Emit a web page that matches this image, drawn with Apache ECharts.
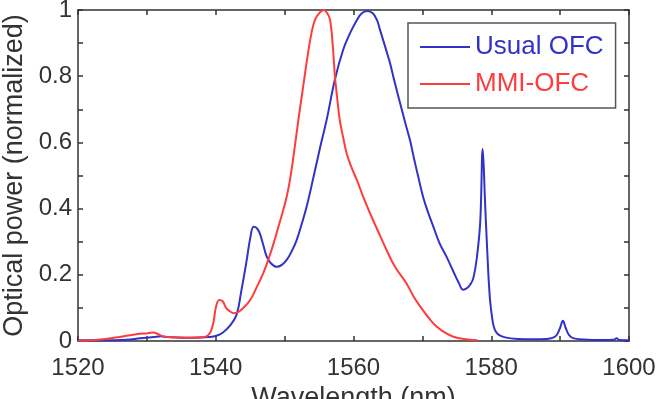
<!DOCTYPE html>
<html>
<head>
<meta charset="utf-8">
<script src="https://cdn.jsdelivr.net/npm/echarts@6/dist/echarts.min.js"></script>
<style>
html,body{margin:0;padding:0;background:#fff;}
#chart{width:666px;height:399px;}
</style>
</head>
<body>
<div id="chart"></div>
<script>
// Wavelength axis
const xTicks = [1520, 1540, 1560, 1580, 1600];
const yTicks = [0, 0.2, 0.4, 0.6, 0.8, 1];

// Usual OFC (blue)
const usualWl = [1520,1524,1527,1529,1531,1532,1533,1535,1537,1539,1540,1541,1542,1543,1543.7,1544.5,1545,1545.5,1546,1546.4,1546.9,1547.4,1548,1548.85,1549.6,1550.3,1551,1551.75,1552.5,1553.2,1554.2,1555.1,1556.1,1557.3,1558.5,1559.5,1560.5,1561.2,1562,1562.8,1563.4,1563.85,1564.8,1565.3,1566,1566.75,1567.5,1568.2,1568.8,1569.4,1570.1,1570.8,1571.6,1572.5,1573.5,1574.5,1575.3,1575.9,1576.5,1577,1577.4,1577.9,1578.4,1578.76,1579.1,1579.4,1579.8,1580.2,1580.5,1581,1582,1584,1586,1588,1589,1589.5,1590,1590.4,1590.8,1591.3,1592,1594,1596,1597.8,1598.2,1598.6,1600];
const usualVal = [0.002,0.002,0.004,0.008,0.012,0.014,0.012,0.010,0.010,0.012,0.015,0.025,0.045,0.078,0.15,0.245,0.31,0.345,0.34,0.325,0.29,0.255,0.235,0.224,0.23,0.245,0.27,0.305,0.355,0.406,0.496,0.58,0.668,0.79,0.88,0.93,0.97,0.99,0.997,0.99,0.97,0.94,0.875,0.84,0.78,0.72,0.66,0.607,0.55,0.496,0.436,0.39,0.345,0.295,0.255,0.21,0.175,0.155,0.16,0.172,0.19,0.25,0.36,0.58,0.42,0.28,0.13,0.06,0.035,0.02,0.011,0.006,0.005,0.006,0.01,0.018,0.04,0.061,0.04,0.018,0.008,0.004,0.003,0.004,0.008,0.003,0.002];

// MMI-OFC (red)
const mmiWl = [1520,1522,1524,1526,1528,1529,1530,1530.5,1531,1531.5,1532.4,1534,1536,1538,1538.8,1539.3,1539.7,1540,1540.5,1541,1541.5,1542.1,1542.6,1543.3,1544,1545,1546,1546.9,1547.7,1548.4,1549.1,1549.8,1550.3,1550.8,1551.3,1552,1552.7,1553.4,1553.9,1554.4,1555,1555.7,1556.2,1556.6,1557,1557.3,1557.6,1558,1558.5,1559,1559.7,1560.5,1561.4,1562.4,1563.6,1564.8,1566,1567.7,1568.7,1569.7,1571,1572.1,1573.3,1574.5,1576,1578];
const mmiVal = [0.001,0.002,0.006,0.012,0.019,0.022,0.023,0.025,0.026,0.022,0.014,0.011,0.010,0.011,0.016,0.03,0.06,0.10,0.124,0.12,0.10,0.089,0.084,0.088,0.10,0.124,0.165,0.205,0.25,0.295,0.345,0.396,0.436,0.49,0.56,0.668,0.77,0.87,0.93,0.97,0.99,1.0,0.99,0.97,0.89,0.80,0.74,0.668,0.615,0.567,0.525,0.486,0.436,0.386,0.33,0.275,0.225,0.174,0.135,0.104,0.068,0.043,0.025,0.013,0.006,0.002];

const seriesNames = ['Usual OFC', 'MMI-OFC'];
const BLUE = '#3232c8';
const RED = '#ff3c3c';

const zip = (a, b) => a.map((v, i) => [v, b[i]]);

const chart = echarts.init(document.getElementById('chart'), null, {renderer: 'canvas'});
const axisCol = '#333';
const font = 'Liberation Sans, Arial, sans-serif';

function xAx(pos, showLabel) {
  return {
    type: 'value', position: pos, min: xTicks[0], max: xTicks[xTicks.length - 1], interval: 20,
    axisLine: {show: true, onZero: false, lineStyle: {color: axisCol, width: 1.5}},
    axisTick: {show: true, inside: true, length: 5, lineStyle: {color: axisCol, width: 1.5}},
    minorTick: {show: true, splitNumber: 2, length: 5, lineStyle: {color: axisCol, width: 1.5}},
    splitLine: {show: false},
    axisLabel: {show: showLabel, fontSize: 24, color: '#333', fontFamily: font, margin: 15,
      formatter: v => String(v)},
  };
}
function yAx(pos, showLabel) {
  return {
    type: 'value', position: pos, min: yTicks[0], max: yTicks[yTicks.length - 1], interval: 0.2,
    axisLine: {show: true, onZero: false, lineStyle: {color: axisCol, width: 1.5}},
    axisTick: {show: true, inside: true, length: 5, lineStyle: {color: axisCol, width: 1.5}},
    minorTick: {show: true, splitNumber: 2, length: 5, lineStyle: {color: axisCol, width: 1.5}},
    splitLine: {show: false},
    axisLabel: {show: showLabel, fontSize: 24, color: '#333', fontFamily: font, margin: 6,
      formatter: v => String(+v.toFixed(1))},
  };
}

const xb = xAx('bottom', true);
xb.name = 'Wavelength (nm)';
xb.nameLocation = 'middle';
xb.nameGap = 44;
xb.nameTextStyle = {fontSize: 27, color: '#333', fontFamily: font};
const yl = yAx('left', true);
yl.name = 'Optical power (normalized)';
yl.nameLocation = 'middle';
yl.nameGap = 50;
yl.nameTextStyle = {fontSize: 27, color: '#333', fontFamily: font};

chart.setOption({
  animation: false,
  backgroundColor: '#fff',
  grid: {left: 78, right: 37, top: 10, bottom: 58, containLabel: false, outerBoundsMode: 'none'},
  xAxis: [xb, xAx('top', false)],
  yAxis: [yl, yAx('right', false)],
  legend: {
    left: 408, top: 23, orient: 'vertical',
    padding: [11, 12, 11, 12], itemGap: 11,
    itemWidth: 50, itemHeight: 2, icon: 'rect',
    borderColor: '#555', borderWidth: 1.5,
    textStyle: {fontSize: 26, fontFamily: font, lineHeight: 23},
    data: [
      {name: seriesNames[0], textStyle: {color: BLUE}},
      {name: seriesNames[1], textStyle: {color: RED}},
    ],
  },
  series: [
    {name: seriesNames[0], type: 'line', data: zip(usualWl, usualVal), showSymbol: false, symbol: 'none',
      smooth: 0.4, lineStyle: {color: BLUE, width: 2}, itemStyle: {color: BLUE}},
    {name: seriesNames[1], type: 'line', data: zip(mmiWl, mmiVal), showSymbol: false, symbol: 'none',
      smooth: 0.4, lineStyle: {color: RED, width: 2}, itemStyle: {color: RED}},
  ],
});
</script>
</body>
</html>
